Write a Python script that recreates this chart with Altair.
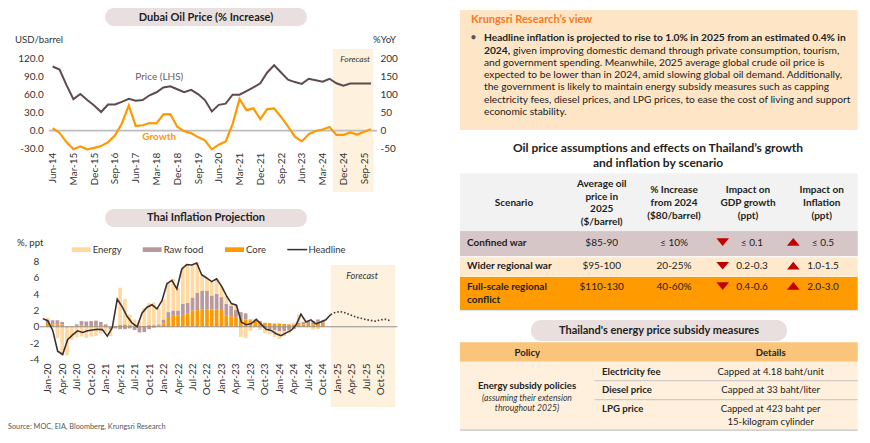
import altair as alt
import pandas as pd

W, H = 854, 427
FONT = "Lato"


def px(v):
    return v - 8


def py(v):
    return v - 8


# ---------------- data ----------------
oil_quarters = list(pd.date_range("2014-06-01", periods=47, freq="3MS").strftime("%b-%y"))
oil_price = [107, 102, 76, 52.5, 61, 51, 42, 31, 43.5, 43.5, 48, 53, 50, 51, 59, 64, 72, 74, 69, 64,
             68, 61, 51, 32, 43, 45, 60, 60, 66, 72, 79, 97, 109, 97, 85, 81, 78, 86.5, 84, 81.5,
             86.5, 79, 75, 78.5, 78.5, 78.5, 78.5]
oil_growth = [6.5, -6.5, -32, -52, -44, -52, -48, -43, -32, -14, 20, 70, 13, 15, 21, 20, 45, 46, 11, -2,
              -7, -18, -27, -52, -39, -30, 18, 88, 57, 62, 32, 60, 62, 38, 12, -17, -30, -10, -1, 3,
              10, -12, -12, -5, -11, -3, 4]
oil_fc_first, oil_fc_last = "Sep-24", "Dec-25"

infl_months = list(pd.date_range("2020-01-01", periods=72, freq="MS").strftime("%b-%y"))
core = [0.35, 0.3, 0.3, 0.3, 0.0, 0.05, 0.2, 0.15, 0.1, 0.1,
        0.1, 0.1, 0.1, 0.0, 0.1, 0.25, 0.3, 0.2, 0.1, 0.1,
        0.1, 0.2, 0.2, 0.2, 0.4, 1.2, 1.35, 1.35, 1.45, 1.6,
        2.0, 2.05, 2.1, 2.15, 2.15, 2.15, 2.05, 1.35, 1.3, 1.1,
        0.95, 0.9, 0.8, 0.75, 0.6, 0.5, 0.45, 0.4, 0.4, 0.35,
        0.3, 0.3, 0.3, 0.3, 0.35, 0.3, 0.35, 0.5]
raw_food = [0.45, 0.5, 0.5, 0.3, -0.1, 0.0, 0.1, 0.55, 0.55, 0.6,
            0.65, 0.5, 0.2, -0.3, -0.2, -0.3, -0.3, -0.2, -0.4, -0.7,
            -0.65, -0.3, -0.1, 0.1, 0.5, 0.6, 0.65, 0.65, 1.35, 1.35,
            1.6, 2.15, 2.3, 2.25, 1.7, 1.9, 1.6, 1.45, 1.3, 1.0,
            0.85, 0.75, 0.1, 0.15, 0.1, -0.2, -0.3, -0.4, -0.55, -0.55,
            -0.4, -0.3, 0.2, 0.3, 0.35, 0.4, 0.55, 0.3]
energy = [0.3, -0.05, -1.4, -3.5, -3.4, -1.6, -1.3, -1.2, -1.35, -1.2,
          -1.15, -0.85, -0.65, -0.85, 0.0, 4.55, 3.1, 1.3, 0.8, 0.6,
          2.2, 2.7, 2.8, 2.0, 2.5, 3.7, 3.9, 2.8, 4.45, 4.65,
          4.0, 3.7, 2.0, 1.6, 1.65, 1.85, 1.35, 1.0, 0.25, 0.55,
          -1.25, -1.4, -0.5, 0.0, -0.4, -0.6, -0.6, -0.85, -0.95, -0.6,
          -0.4, 0.2, 1.0, 0.0, 0.1, -0.35, -0.3, 0.05]
headline = [1.0, 0.75, -0.45, -3.0, -3.4, -1.6, -1.0, -0.5, -0.7, -0.5,
            -0.4, -0.3, -0.35, -1.15, -0.1, 3.4, 2.45, 1.25, 0.45, 0.0,
            1.7, 2.4, 2.7, 2.2, 3.2, 5.3, 5.7, 4.65, 7.1, 7.65,
            7.6, 7.85, 6.4, 6.0, 5.55, 5.9, 5.0, 3.8, 2.85, 2.65,
            0.55, 0.25, 0.4, 0.9, 0.3, -0.3, -0.45, -0.85, -1.1, -0.75,
            -0.45, 0.2, 1.55, 0.6, 0.85, 0.35, 0.6, 0.85, 1.5]
headline_fc = [1.5, 1.8, 1.85, 1.7, 1.45, 1.2, 1.05, 0.9, 0.78, 0.7, 0.85, 0.92, 0.75]
infl_fc_first, infl_fc_last = "Nov-24", "Dec-25"
series_names = ["Energy", "Raw food", "Core"]
series_colors = ["#FFD9A0", "#B89A9C", "#FF9900"]

scenarios = ["Confined war", "Wider regional war", "Full-scale regional|conflict"]
scen_price = ["$85-90", "$95-100", "$110-130"]
scen_increase = ["≤ 10%", "20-25%", "40-60%"]
scen_gdp = ["≤ 0.1", "0.2-0.3", "0.4-0.6"]
scen_infl = ["≤ 0.5", "1.0-1.5", "2.0-3.0"]
scen_fill = ["#D6C6C7", "#FFE9CC", "#FF9A00"]

subsidy_items = ["Electricity fee", "Diesel price", "LPG price"]
subsidy_details = ["Capped at 4.18 baht/unit", "Capped at 33 baht/liter",
                   "Capped at 423 baht per|15-kilogram cylinder"]

view_lines = [
    ("b", "Headline inflation is projected to rise to 1.0% in 2025 from an estimated 0.4% in"),
    ("bn", "2024,|given improving domestic demand through private consumption, tourism,"),
    ("n", "and government spending. Meanwhile, 2025 average global crude oil price is"),
    ("n", "expected to be lower than in 2024, amid slowing global oil demand. Additionally,"),
    ("n", "the government is likely to maintain energy subsidy measures such as capping"),
    ("n", "electricity fees, diesel prices, and LPG prices, to ease the cost of living and support"),
    ("n", "economic stability."),
]

# ---------------- layout ----------------
OX_R = [px(49.2), px(374.5)]
OY_R = [py(148.6), py(58.7)]
IX_R = [px(40.3), px(397.8)]
IY_R = [py(359.3), py(261.7)]

ax_common = dict(domain=False, ticks=False, grid=False, labelFont=FONT, labelColor="#333333",
                 title=None, labelOverlap=False, labelFlush=False, zindex=1)
MINUS = "replace(format(datum.value, '%s'), '\u2212', '-')"


def sc(domain, rng):
    return alt.Scale(domain=domain, range=rng, nice=False, zero=False)


def arr_expr(labels):
    return "[" + ",".join("'%s'" % s for s in labels) + "][datum.value]"


oil_xs = lambda: sc([-0.5, 46.5], OX_R)
oil_ys = lambda: sc([-30, 120], OY_R)
oil_y2s = lambda: sc([-50, 200], OY_R)
inf_xs = lambda: sc([-0.5, 71.5], IX_R)
inf_ys = lambda: sc([-4, 8], IY_R)

layers = []

# ---------- pixel decorations ----------
rects, rules, texts = [], [], []


def R(x1, y1, x2, y2, color, r=0):
    rects.append(dict(x=px(x1), x2=px(x2), y=py(y1), y2=py(y2), color=color, r=r))


def L(x1, y1, x2, y2, color, w=1.0):
    rules.append(dict(x=px(x1), x2=px(x2), y=py(y1), y2=py(y2), color=color, w=w))


def T(s, x, y, size, weight="normal", style="normal", align="left", color="#222222"):
    texts.append(dict(text=s, x=px(x), y=py(y), size=size, weight=weight, style=style,
                      align=align, color=color))


PILL = "#E9DFDE"
R(105, 8, 307, 26, PILL, 9)
R(105, 209, 307, 227, PILL, 9)
R(531, 320, 787, 341, PILL, 10)
T("Dubai Oil Price (% Increase)", 206, 17.5, 11, "bold", align="center")
T("Thai Inflation Projection", 206, 218.3, 11, "bold", align="center")
T("Thailand's energy price subsidy measures", 659, 330.7, 11, "bold", align="center")
T("USD/barrel", 15, 39.5, 9.6, color="#333333")
T("%YoY", 396, 39.5, 9.6, align="right", color="#333333")
T("%, ppt", 17, 243.3, 9.6, color="#333333")

# legend
leg_x = [71.7, 142.7, 225.0]
for name, col, x0 in zip(series_names, series_colors, leg_x):
    R(x0, 247.3, x0 + 19, 252.0, col)
    T(name, x0 + 21, 249.6, 9.5, color="#333333")
L(287.3, 249.6, 307.3, 249.6, "#3B2F31", 1.5)
T("Headline", 308.5, 249.6, 9.5, color="#333333")
T("Source: MOC, EIA, Bloomberg, Krungsri Research", 8, 427.3, 7.3, color="#555555")

# right: view box
R(460, 10, 857.7, 130, "#FDE5C6")
T("Krungsri Research\u2019s view", 471, 20, 11, "bold", color="#F57A1E")
T("\u2022", 473.5, 38.3, 11, align="center", color="#555555")
line_y = [38.3, 50.6, 62.8, 75.0, 87.3, 99.5, 111.7]
PSZ = 10.2
for (kind, s), yy in zip(view_lines, line_y):
    if kind == "b":
        T(s, 484, yy, PSZ, "bold")
    elif kind == "bn":
        a, b = s.split("|")
        T(a, 484, yy, PSZ, "bold")
        T(b, 513, yy, PSZ)
    else:
        T(s, 484, yy, PSZ)

# table 1
T("Oil price assumptions and effects on Thailand\u2019s growth", 658, 147.5, 12, "bold", align="center")
T("and inflation by scenario", 658, 162.8, 12, "bold", align="center")
R(460, 173.3, 857.7, 231.7, "#F2F2F2")
row_top = [231.7, 256.7, 276.3]
row_bot = [256.7, 276.3, 310.0]
for t0, t1, col in zip(row_top, row_bot, scen_fill):
    R(460, t0, 857.7, t1, col)
L(460, 231.7, 857.7, 231.7, "#C9C9C9", 1)
L(460, 256.7, 857.7, 256.7, "#FFFFFF", 1)
L(460, 276.3, 857.7, 276.3, "#FFFFFF", 1)
L(460, 310.6, 857.7, 310.6, "#DCE2E8", 1)

col_c = [514.0, 601.7, 674.0, 748.0, 821.7]
headers = [["Scenario"], ["Average oil", "price in", "2025", "($/barrel)"],
           ["% Increase", "from 2024", "($80/barrel)"], ["Impact on", "GDP growth", "(ppt)"],
           ["Impact on", "Inflation", "(ppt)"]]
for cx, hl in zip(col_c, headers):
    n = len(hl)
    for k, s in enumerate(hl):
        yy = 203.0 + (k - (n - 1) / 2) * 12.7
        T(s, cx, yy, 10, "bold", align="center")

row_y = [242.7, 266.4, 286.7]
tri_down, tri_up = [], []
for i in range(3):
    parts = scenarios[i].split("|")
    for k, s in enumerate(parts):
        T(s, 467, row_y[i] + k * 13.3, 10, "bold")
    T(scen_price[i], col_c[1], row_y[i], 10, align="center")
    T(scen_increase[i], col_c[2], row_y[i], 10, align="center")
    T(scen_gdp[i], 752, row_y[i], 10, align="center")
    T(scen_infl[i], 823, row_y[i], 10, align="center")
    tri_down.append(dict(x=px(722.7), y=py(row_y[i] - 0.6)))
    tri_up.append(dict(x=px(793.3), y=py(row_y[i] - 0.8)))

# table 2
R(460, 342.3, 857.7, 361.7, "#FAC47A")
R(460, 361.7, 857.7, 430, "#FEF0DD")
L(594.5, 380.7, 857.7, 380.7, "#C3C3C3", 1)
L(594.5, 399.7, 857.7, 399.7, "#C3C3C3", 1)
L(460, 430.2, 857.7, 430.2, "#C3C3C3", 1.2)
T("Policy", 527.3, 352.7, 9.6, "bold", align="center")
T("Details", 770.7, 352.7, 9.6, "bold", align="center")
T("Energy subsidy policies", 527, 386, 9.6, "bold", align="center")
T("(assuming their extension", 527, 397.8, 8.6, style="italic", align="center", color="#333333")
T("throughout 2025)", 527, 408.4, 8.6, style="italic", align="center", color="#333333")
sub_y = [371.7, 390.3, 409.0]
for it, det, yy in zip(subsidy_items, subsidy_details, sub_y):
    T(it, 602, yy, 9.6, "bold")
    for k, s in enumerate(det.split("|")):
        T(s, 770.7, yy + k * 12.7, 9.6, align="center")

PXX = alt.X("x:Q", scale=None, axis=None)
PXY = alt.Y("y:Q", scale=None, axis=None)

rdf = pd.DataFrame(rects)
for r in sorted(rdf["r"].unique()):
    sub = rdf[rdf["r"] == r]
    layers.append(alt.Chart(sub).mark_rect(cornerRadius=float(r)).encode(
        x=PXX, x2="x2:Q", y=PXY, y2="y2:Q", color=alt.Color("color:N", scale=None, legend=None)))

# ---------- oil chart ----------
oil = pd.DataFrame({"idx": range(len(oil_quarters)), "q": oil_quarters,
                    "price": oil_price, "growth": oil_growth})
i0 = oil_quarters.index(oil_fc_first)
i1 = oil_quarters.index(oil_fc_last)
oil_shade = pd.DataFrame({"a": [i0 - 0.5], "b": [i1 + 0.35], "lo": [-102.4], "hi": [136.2]})
layers.append(alt.Chart(oil_shade).mark_rect(color="#FEF1DE").encode(
    x=alt.X("a:Q", scale=oil_xs(), axis=None), x2="b:Q",
    y=alt.Y("lo:Q", scale=oil_ys(), axis=None), y2="hi:Q"))
oil_zero = pd.DataFrame({"a": [-0.55], "b": [46.85], "v": [0]})
layers.append(alt.Chart(oil_zero).mark_rule(color="#BDBDBD", strokeWidth=1.8).encode(
    x=alt.X("a:Q", scale=oil_xs(), axis=None), x2="b:Q",
    y=alt.Y("v:Q", scale=oil_ys(), axis=None)))
layers.append(alt.Chart(oil).mark_line(color="#5D4B4E", strokeWidth=2).encode(
    x=alt.X("idx:Q", scale=oil_xs(),
            axis=alt.Axis(orient="bottom", offset=OY_R[0] - H, values=list(range(0, 47, 3)),
                          labelExpr=arr_expr(oil_quarters), labelAngle=-90, labelPadding=3.5,
                          labelFontSize=10, **ax_common)),
    y=alt.Y("price:Q", scale=oil_ys(),
            axis=alt.Axis(orient="left", offset=-OX_R[0], values=[-30, 0, 30, 60, 90, 120],
                          labelExpr=MINUS % ".1f", labelPadding=6, labelFontSize=10, **ax_common))))
layers.append(alt.Chart(oil).mark_line(color="#FF9900", strokeWidth=2.2).encode(
    x=alt.X("idx:Q", scale=oil_xs(), axis=None),
    y=alt.Y("growth:Q", scale=oil_y2s(),
            axis=alt.Axis(orient="right", offset=OX_R[1] - W, values=[-50, 0, 50, 100, 150, 200],
                          labelExpr=MINUS % "d", labelPadding=5.5, labelFontSize=10, **ax_common))))
oil_notes = pd.DataFrame({"t": ["Price (LHS)"], "i": [15.4], "v": [89.5]})
layers.append(alt.Chart(oil_notes).mark_text(font=FONT, fontSize=10, color="#6E5A5D").encode(
    x=alt.X("i:Q", scale=oil_xs(), axis=None), y=alt.Y("v:Q", scale=oil_ys(), axis=None), text="t:N"))
oil_notes2 = pd.DataFrame({"t": ["Growth"], "i": [15.4], "v": [-10.6]})
layers.append(alt.Chart(oil_notes2).mark_text(font=FONT, fontSize=10, fontWeight="bold",
                                              color="#FF9900").encode(
    x=alt.X("i:Q", scale=oil_xs(), axis=None), y=alt.Y("v:Q", scale=oil_ys(), axis=None), text="t:N"))
oil_fc_txt = pd.DataFrame({"t": ["Forecast"], "i": [43.7], "v": [119.5]})
layers.append(alt.Chart(oil_fc_txt).mark_text(font=FONT, fontSize=8.5, fontStyle="italic",
                                              color="#333333").encode(
    x=alt.X("i:Q", scale=oil_xs(), axis=None), y=alt.Y("v:Q", scale=oil_ys(), axis=None), text="t:N"))

# ---------- inflation chart ----------
j0 = infl_months.index(infl_fc_first)
j1 = infl_months.index(infl_fc_last)
inf_shade = pd.DataFrame({"a": [j0], "b": [j1], "lo": [-9.87], "hi": [7.59]})
layers.append(alt.Chart(inf_shade).mark_rect(color="#FEF1DE").encode(
    x=alt.X("a:Q", scale=inf_xs(), axis=None), x2="b:Q",
    y=alt.Y("lo:Q", scale=inf_ys(), axis=None), y2="hi:Q"))
rows = []
for i in range(len(core)):
    for k, (nm, vals) in enumerate(zip(["Core", "Raw food", "Energy"], [core, raw_food, energy])):
        rows.append(dict(idx=i, series=nm, ord=k, v=vals[i]))
bars = pd.DataFrame(rows)
layers.append(alt.Chart(bars).mark_bar(size=3.7).encode(
    x=alt.X("idx:Q", scale=inf_xs(),
            axis=alt.Axis(orient="bottom", offset=IY_R[0] - H, values=list(range(0, 72, 3)),
                          labelExpr=arr_expr(infl_months), labelAngle=-90, labelPadding=3.7,
                          labelFontSize=10, **ax_common)),
    y=alt.Y("v:Q", scale=inf_ys(), stack="zero",
            axis=alt.Axis(orient="left", offset=-IX_R[0], values=[-4, -2, 0, 2, 4, 6, 8],
                          labelExpr=MINUS % "d", labelPadding=1.5, labelFontSize=10, **ax_common)),
    color=alt.Color("series:N", scale=alt.Scale(domain=series_names, range=series_colors), legend=None),
    order=alt.Order("ord:Q")))
inf_zero = pd.DataFrame({"a": [-0.6], "b": [71.4], "v": [0]})
layers.append(alt.Chart(inf_zero).mark_rule(color="#8F8F8F", strokeWidth=1).encode(
    x=alt.X("a:Q", scale=inf_xs(), axis=None), x2="b:Q",
    y=alt.Y("v:Q", scale=inf_ys(), axis=None)))
hl = pd.DataFrame({"idx": range(len(headline)), "v": headline})
layers.append(alt.Chart(hl).mark_line(color="#3B2F31", strokeWidth=1.6).encode(
    x=alt.X("idx:Q", scale=inf_xs(), axis=None), y=alt.Y("v:Q", scale=inf_ys(), axis=None)))
hf = pd.DataFrame({"idx": range(j0, j0 + len(headline_fc)), "v": headline_fc})
layers.append(alt.Chart(hf).mark_line(color="#3B2F31", strokeWidth=1.6, strokeDash=[1.5, 2]).encode(
    x=alt.X("idx:Q", scale=inf_xs(), axis=None), y=alt.Y("v:Q", scale=inf_ys(), axis=None)))
inf_fc_txt = pd.DataFrame({"t": ["Forecast"], "i": [64.3], "v": [6.24]})
layers.append(alt.Chart(inf_fc_txt).mark_text(font=FONT, fontSize=9, fontStyle="italic",
                                              color="#333333").encode(
    x=alt.X("i:Q", scale=inf_xs(), axis=None), y=alt.Y("v:Q", scale=inf_ys(), axis=None), text="t:N"))

# ---------- pixel rules, triangles, texts ----------
layers.append(alt.Chart(pd.DataFrame(rules)).mark_rule().encode(
    x=PXX, x2="x2:Q", y=PXY, y2="y2:Q", color=alt.Color("color:N", scale=None, legend=None),
    strokeWidth=alt.StrokeWidth("w:Q", scale=None, legend=None)))
DOWN = "M-1,-0.6L1,-0.6L0,0.6Z"
UP = "M-1,0.6L1,0.6L0,-0.6Z"
for pts, shp in [(tri_down, DOWN), (tri_up, UP)]:
    layers.append(alt.Chart(pd.DataFrame(pts)).mark_point(
        shape=shp, filled=True, size=160, color="#C00000", opacity=1, strokeWidth=0).encode(x=PXX, y=PXY))

tdf = pd.DataFrame(texts)
for (w, st, al), sub in tdf.groupby(["weight", "style", "align"]):
    layers.append(alt.Chart(sub).mark_text(font=FONT, fontWeight=w, fontStyle=st, align=al,
                                           baseline="middle").encode(
        x=PXX, y=PXY, text="text:N",
        size=alt.Size("size:Q", scale=None, legend=None),
        color=alt.Color("color:N", scale=None, legend=None)))

chart = alt.layer(*layers).resolve_scale(
    x="independent", y="independent", color="independent", size="independent",
    strokeWidth="independent"
).properties(width=W, height=H, padding=0, background="white",
             autosize=alt.AutoSizeParams(type="none")).configure_view(strokeWidth=0)

chart.save("out.html", embed_options={"renderer": "svg", "actions": False})
